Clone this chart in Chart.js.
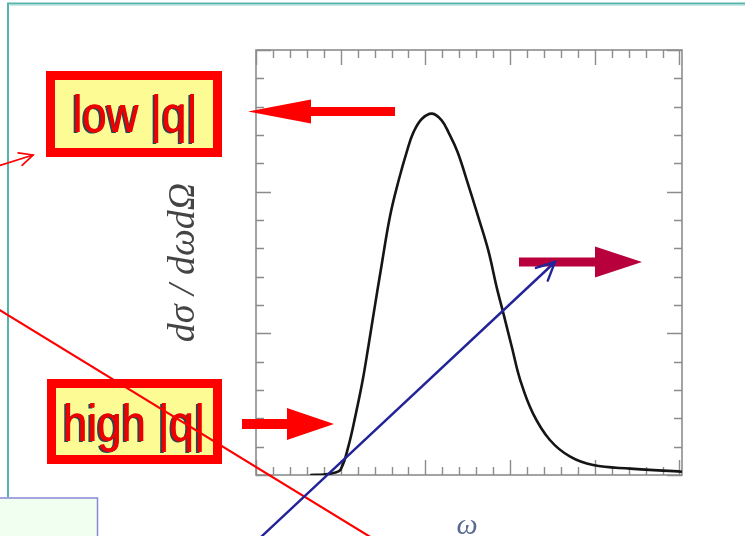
<!DOCTYPE html>
<html>
<head>
<meta charset="utf-8">
<script src="https://cdn.jsdelivr.net/npm/chart.js@4/dist/chart.umd.min.js"></script>
<style>
html,body{margin:0;padding:0;background:#fff;}
#wrap{position:relative;width:745px;height:536px;}
canvas{display:block;}
</style>
</head>
<body>
<div id="wrap"><canvas id="c" width="745" height="536"></canvas></div>
<script>
// ---- data (omega in axis units, cross-section in axis units)
const omegaValues = [0.64, 0.80, 0.92, 1.00, 1.09, 1.18, 1.26, 1.33, 1.40, 1.48, 1.58, 1.68, 1.786, 1.86, 1.96, 2.08, 2.19, 2.28, 2.38, 2.50, 2.625, 2.745, 2.84, 2.93, 3.02, 3.12, 3.27, 3.47, 3.71, 3.98, 4.42, 5.03];
const sigmaValues = [0.0, 0.004, 0.015, 0.04, 0.20, 0.435, 0.67, 0.92, 1.18, 1.47, 1.82, 2.07, 2.294, 2.42, 2.515, 2.551, 2.505, 2.41, 2.28, 2.06, 1.82, 1.58, 1.33, 1.12, 0.905, 0.67, 0.435, 0.247, 0.129, 0.07, 0.045, 0.023];
const xRange = [0, 5.03];
const yRange = [0, 3];
const minorStep = 0.2;
const yTitle = "dσ / dωdΩ";
const xTitle = "ω";
const boxLabels = ["low |q|", "high |q|"];

const points = omegaValues.map((x, i) => ({x: x, y: sigmaValues[i]}));

function blockArrow(ctx, x0, x1, yc, shaftH, headLen, headH, color) {
  const dir = Math.sign(x1 - x0);
  const hb = x1 - dir * headLen;
  ctx.fillStyle = color;
  ctx.beginPath();
  ctx.moveTo(x0, yc - shaftH / 2);
  ctx.lineTo(hb, yc - shaftH / 2);
  ctx.lineTo(hb, yc - headH / 2);
  ctx.lineTo(x1, yc);
  ctx.lineTo(hb, yc + headH / 2);
  ctx.lineTo(hb, yc + shaftH / 2);
  ctx.lineTo(x0, yc + shaftH / 2);
  ctx.closePath();
  ctx.fill();
}
function lineArrow(ctx, x0, y0, x1, y1, color, w, head) {
  ctx.strokeStyle = color; ctx.lineWidth = w; ctx.lineCap = 'round';
  ctx.beginPath(); ctx.moveTo(x0, y0); ctx.lineTo(x1, y1); ctx.stroke();
  if (head) {
    const a = Math.atan2(y1 - y0, x1 - x0);
    const L = head, s = 0.45;
    ctx.beginPath();
    ctx.moveTo(x1 - L * Math.cos(a - s), y1 - L * Math.sin(a - s));
    ctx.lineTo(x1, y1);
    ctx.lineTo(x1 - L * Math.cos(a + s), y1 - L * Math.sin(a + s));
    ctx.stroke();
  }
}
function labelBox(ctx, x, y, w, h, text, tx, tbase) {
  ctx.fillStyle = '#ff0000';
  ctx.fillRect(x, y, w, h);
  ctx.fillStyle = '#fdfb94';
  ctx.fillRect(x + 9, y + 9, w - 18, h - 18);
  ctx.save();
  ctx.translate(tx, tbase);
  ctx.scale(1.02, 1.2);
  ctx.font = '43px "Liberation Sans", Arial, sans-serif';
  ctx.textAlign = 'center';
  ctx.textBaseline = 'alphabetic';
  ctx.fillStyle = '#2a4450';
  ctx.fillText(text, -1.6, 0.9);
  ctx.fillStyle = '#ee0000';
  ctx.fillText(text, 0.4, 0);
  ctx.fillText(text, 0, 0);
  ctx.restore();
}

const decor = {
  id: 'decor',
  beforeDraw(chart) {
    const ctx = chart.ctx;
    ctx.save();
    ctx.fillStyle = '#ffffff';
    ctx.fillRect(0, 0, chart.width, chart.height);
    // slide frame
    ctx.strokeStyle = '#55b5ad';
    ctx.lineWidth = 2;
    ctx.beginPath();
    ctx.moveTo(8, 497); ctx.lineTo(8, 3.5); ctx.lineTo(745, 3.5);
    ctx.stroke();
    ctx.strokeStyle = '#c8e8e4'; ctx.lineWidth = 1;
    ctx.beginPath(); ctx.moveTo(10, 5.5); ctx.lineTo(745, 5.5); ctx.stroke();
    // plot frame and inward ticks
    const a = chart.chartArea, xs = chart.scales.x, ys = chart.scales.y;
    ctx.strokeStyle = '#8c8c8c';
    ctx.lineWidth = 1.6;
    ctx.strokeRect(a.left, a.top, a.right - a.left, a.bottom - a.top);
    ctx.lineWidth = 1.4;
    ctx.beginPath();
    for (let i = 0; i * minorStep <= xRange[1] + 1e-9; i++) {
      const v = i * minorStep, px = Math.round(xs.getPixelForValue(v)) + 0.5;
      const L = (i % 5 === 0) ? 15 : 8;
      ctx.moveTo(px, a.top); ctx.lineTo(px, a.top + L);
      ctx.moveTo(px, a.bottom); ctx.lineTo(px, a.bottom - L);
    }
    for (let i = 0; i * minorStep <= yRange[1] + 1e-9; i++) {
      const v = i * minorStep, py = Math.round(ys.getPixelForValue(v)) + 0.5;
      const L = (i % 5 === 0) ? 15 : 8;
      ctx.moveTo(a.left, py); ctx.lineTo(a.left + L, py);
      ctx.moveTo(a.right, py); ctx.lineTo(a.right - L, py);
    }
    ctx.stroke();
    // axis titles
    ctx.save();
    ctx.translate(194, 262.5);
    ctx.rotate(-Math.PI / 2);
    ctx.font = 'italic 38px "Liberation Serif", "DejaVu Serif", serif';
    ctx.textAlign = 'center';
    ctx.textBaseline = 'alphabetic';
    ctx.fillStyle = '#444444';
    ctx.fillText(yTitle, 0, 0);
    ctx.restore();
    ctx.font = 'italic 30px "Liberation Serif", serif';
    ctx.textAlign = 'center';
    ctx.fillStyle = '#5a6a90';
    ctx.fillText(xTitle, 467, 534);
    ctx.restore();
  },
  afterDraw(chart) {
    const ctx = chart.ctx;
    ctx.save();
    // light green box bottom-left
    ctx.fillStyle = '#f0fff0';
    ctx.fillRect(0, 498, 98, 40);
    ctx.strokeStyle = '#8888d8'; ctx.lineWidth = 1.5;
    ctx.strokeRect(-2, 498, 99.5, 42);
    // label boxes
    labelBox(ctx, 46, 71, 176, 86, boxLabels[0], 135, 132);
    labelBox(ctx, 47, 379, 175, 85, boxLabels[1], 134, 441);
    // block arrows
    blockArrow(ctx, 395, 248, 111.5, 9, 63, 24, '#ff0000');
    blockArrow(ctx, 242, 334, 424, 10, 47, 32, '#ff0000');
    blockArrow(ctx, 519, 642, 262, 9, 47, 31, '#b8003c');
    // thin lines
    lineArrow(ctx, -2, 309, 372, 538, '#ff0000', 2.2, 0);
    lineArrow(ctx, 0, 165.5, 33, 155, '#ff0000', 1.7, 15);
    lineArrow(ctx, 261, 537, 555, 262, '#23239a', 2.4, 20);
    ctx.restore();
  }
};

new Chart(document.getElementById('c'), {
  type: 'scatter',
  data: {
    datasets: [{
      data: points,
      showLine: true,
      borderColor: '#151515',
      borderWidth: 2.6,
      pointRadius: 0,
      tension: 0.4,
      fill: false
    }]
  },
  options: {
    responsive: false,
    animation: false,
    devicePixelRatio: 1,
    layout: {padding: {left: 256, right: 63, top: 50, bottom: 61}},
    plugins: {legend: {display: false}, tooltip: {enabled: false}},
    scales: {
      x: {type: 'linear', min: xRange[0], max: xRange[1], display: false},
      y: {type: 'linear', min: yRange[0], max: yRange[1], display: false}
    }
  },
  plugins: [decor]
});
</script>
</body>
</html>
